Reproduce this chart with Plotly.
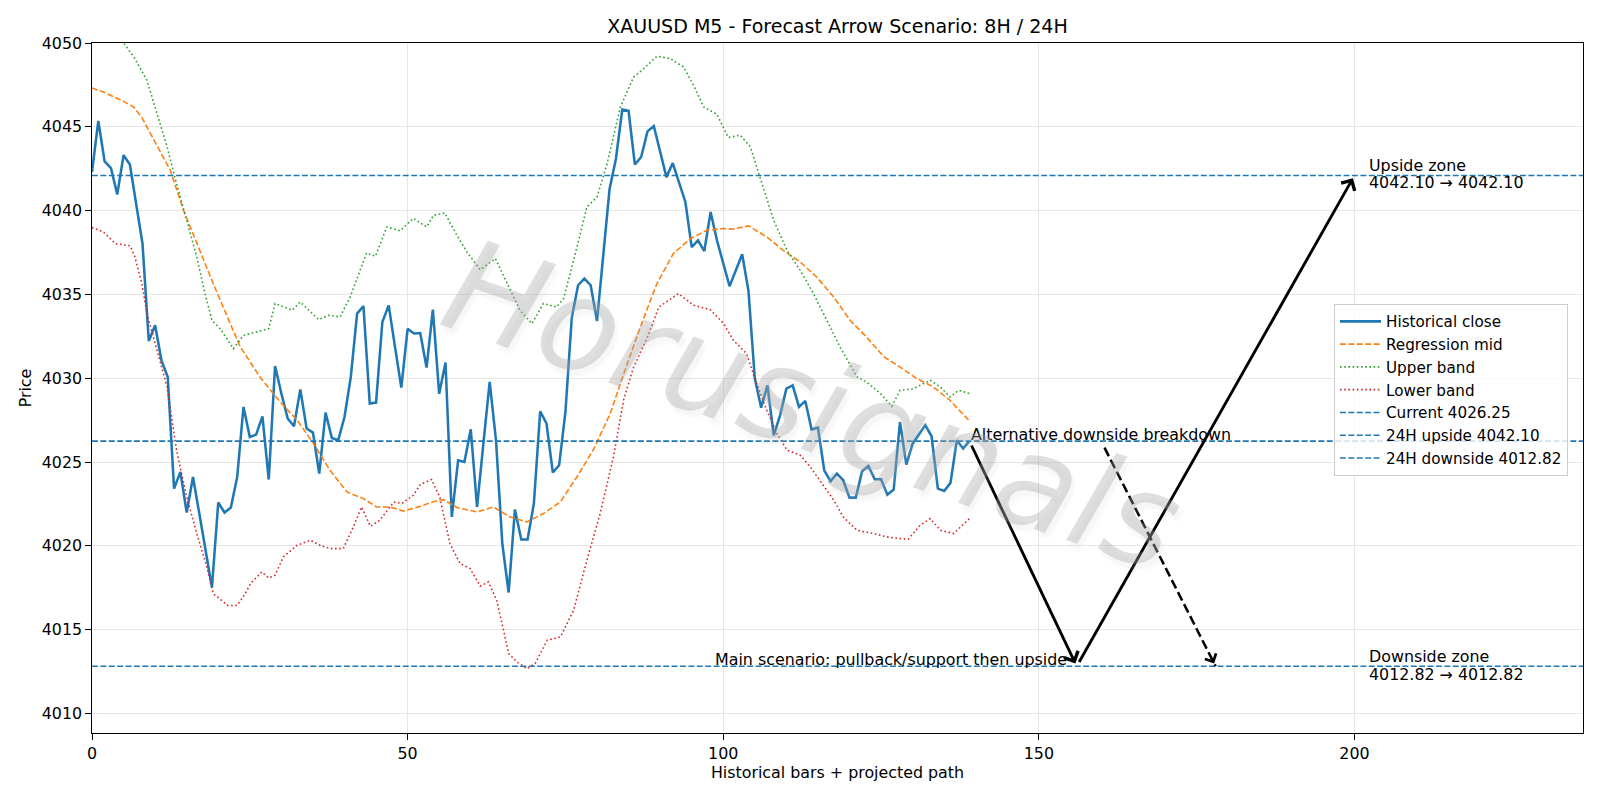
import plotly.graph_objects as go

# ---------------- data ----------------
close = [
    4042.30, 4045.35, 4042.94, 4042.54, 4040.97, 4043.30, 4042.75, 4040.42, 4038.03, 4032.22,
    4033.16, 4031.07, 4030.08, 4023.42, 4024.41, 4021.99, 4024.11, 4021.93, 4019.74, 4017.52,
    4022.59, 4021.99, 4022.29, 4024.11, 4028.29, 4026.50, 4026.64, 4027.73, 4023.96, 4030.73,
    4029.09, 4027.60, 4027.14, 4029.34, 4027.00, 4026.76, 4024.32, 4027.95, 4026.44, 4026.30,
    4027.69, 4030.08, 4033.86, 4034.31, 4028.49, 4028.55, 4033.36, 4034.35, 4031.87, 4029.45,
    4032.95, 4032.67, 4032.70, 4030.64, 4034.10, 4029.07, 4030.94, 4021.73, 4025.11, 4025.01,
    4026.96, 4022.32, 4026.10, 4029.78, 4026.30, 4020.14, 4017.22, 4022.17, 4020.38, 4020.38,
    4022.53, 4028.03, 4027.30, 4024.38, 4024.81, 4027.99, 4033.60, 4035.55, 4035.95, 4035.55,
    4033.42, 4037.53, 4041.31, 4043.10, 4046.03, 4045.95, 4042.75, 4043.20, 4044.73, 4045.05,
    4043.56, 4042.00, 4042.84, 4041.71, 4040.52, 4037.83, 4038.23, 4037.59, 4039.92, 4038.23,
    4036.94, 4035.49, 4036.44, 4037.40, 4035.20, 4030.00, 4028.25, 4029.58, 4026.60, 4027.79,
    4029.38, 4029.58, 4028.29, 4028.65, 4026.94, 4027.06, 4024.51, 4023.86, 4024.31, 4023.92,
    4022.88, 4022.88, 4024.45, 4024.77, 4023.98, 4023.98, 4023.06, 4023.36, 4027.39, 4024.85,
    4026.10, 4026.66, 4027.20, 4026.54, 4023.42, 4023.28, 4023.76, 4026.30, 4025.81, 4026.25,
]
bars = list(range(len(close)))

mid_x = [0, 1.8, 5, 6.6, 7.9, 10.3, 12.4, 14.5, 16.6, 19.2, 21.9, 23.5, 26.6, 29.8, 32.5, 35.1,
         37.7, 40.4, 43, 45.1, 47.2, 49.3, 52, 54.1, 55.7, 57.8, 61, 63.6, 66.2, 68.9, 71.5, 74.2,
         76.8, 79.4, 82.1, 84.7, 87.4, 89.5, 92.1, 94.8, 97.4, 100, 101.6, 104, 106.9, 109.5,
         112.2, 114.8, 117.5, 120.1, 122.7, 125.4, 128, 130.7, 133.3, 135.9, 139]
mid_y = [4047.32, 4047.08, 4046.52, 4046.18, 4045.55, 4043.90, 4042.41, 4040.02, 4038.03, 4035.65,
         4033.26, 4031.87, 4030.08, 4028.59, 4027.50, 4026.10, 4024.51, 4023.22, 4022.82, 4022.32,
         4022.32, 4022.08, 4022.36, 4022.64, 4022.76, 4022.29, 4022.03, 4022.32, 4021.73, 4021.43,
         4021.93, 4022.62, 4024.11, 4025.71, 4027.90, 4030.78, 4033.60, 4035.65, 4037.44, 4038.33,
         4038.83, 4038.93, 4038.90, 4039.09, 4038.43, 4037.63, 4036.94, 4036.04, 4034.85, 4033.46,
         4032.46, 4031.30, 4030.67, 4029.98, 4029.48, 4028.69, 4027.45]

up_x = [0, 5.0, 6.8, 8.7, 10.3, 11.9, 13.4, 15.0, 16.6, 17.9, 19.0, 20.3, 22.4, 24.0, 26.1, 28.0,
        29.0, 31.7, 33.0, 35.9, 37.5, 39.3, 40.9, 43.5, 44.9, 46.7, 48.8, 50.9, 53.0, 54.1, 55.9,
        57.8, 59.4, 61.5, 63.9, 65.7, 67.8, 69.7, 71.5, 73.6, 74.7, 76.3, 78.4, 80.0, 81.6, 83.7,
        85.8, 87.4, 89.5, 91.6, 93.7, 95.3, 96.9, 99.0, 100.8, 102.7, 104.3, 105.8, 108.0, 110.1,
        112.2, 114.3, 116.4, 118.5, 121.2, 122.7, 124.9, 126.7, 128.0, 130.1, 132.8, 134.4, 135.9,
        137.3, 139.0]
up_y = [4052.60, 4049.96, 4049.07, 4047.78, 4045.79, 4043.80, 4041.61, 4039.42, 4037.24, 4035.05,
        4033.46, 4032.96, 4031.77, 4032.56, 4032.76, 4032.96, 4034.46, 4034.06, 4034.55, 4033.50,
        4033.76, 4033.66, 4034.85, 4037.48, 4037.28, 4039.03, 4038.80, 4039.54, 4039.03, 4039.72,
        4039.86, 4038.53, 4037.53, 4036.48, 4037.14, 4035.74, 4034.06, 4033.26, 4034.46, 4034.25,
        4034.75, 4037.04, 4040.22, 4040.81, 4042.80, 4046.18, 4047.97, 4048.47, 4049.21, 4049.07,
        4048.57, 4047.48, 4046.18, 4045.75, 4044.36, 4044.50, 4043.80, 4042.01, 4039.42, 4037.63,
        4036.44, 4035.05, 4033.46, 4031.87, 4030.08, 4029.78, 4029.09, 4028.33, 4029.28, 4029.38,
        4029.88, 4029.48, 4028.89, 4029.28, 4029.09]

lo_x = [0, 1.8, 3.7, 5.0, 6.05, 6.8, 7.9, 8.7, 10.3, 11.9, 13.4, 15.0, 16.6, 18.2, 19.2, 20.3, 21.5,
        23.0, 24.2, 25.1, 26.9, 28.0, 29.0, 30.3, 32.5, 34.6, 36.1, 37.7, 39.8, 41.4, 42.7, 44.1,
        45.6, 47.8, 49.1, 50.9, 52.0, 53.8, 55.1, 56.7, 58.3, 59.9, 61.5, 62.8, 64.1, 65.2, 66.0,
        67.3, 68.9, 70.2, 72.1, 74.2, 76.3, 78.4, 80.5, 82.6, 84.2, 85.8, 88.0, 89.8, 92.9, 95.3,
        97.9, 100.0, 101.6, 103.7, 105.3, 106.9, 108.5, 110.1, 112.2, 113.8, 115.4, 117.5, 119.0,
        121.2, 123.8, 125.9, 128.0, 129.3, 131.2, 132.8, 134.4, 136.5, 139.0]
lo_y = [4038.99, 4038.73, 4038.03, 4037.97, 4037.90, 4037.24, 4035.65, 4033.86, 4031.67, 4029.48,
        4025.71, 4022.92, 4020.74, 4018.75, 4017.16, 4016.80, 4016.45, 4016.45, 4017.10, 4017.75,
        4018.45, 4018.09, 4018.25, 4019.34, 4020.04, 4020.34, 4020.04, 4019.84, 4019.84, 4021.13,
        4022.32, 4021.17, 4021.53, 4022.62, 4022.53, 4023.02, 4023.66, 4023.96, 4022.90, 4020.14,
        4018.95, 4018.65, 4017.60, 4017.85, 4016.76, 4014.97, 4013.58, 4013.08, 4012.68, 4012.98,
        4014.37, 4014.57, 4016.16, 4019.14, 4021.93, 4025.30, 4028.69, 4030.67, 4032.46, 4034.25,
        4035.05, 4034.35, 4034.10, 4033.30, 4032.27, 4031.47, 4029.68, 4028.09, 4026.70, 4025.71,
        4025.41, 4024.71, 4023.82, 4022.73, 4021.73, 4020.93, 4020.74, 4020.54, 4020.44, 4020.40,
        4021.23, 4021.63, 4020.93, 4020.74, 4021.63]

current_price = 4026.25
upside_level = 4042.10
downside_level = 4012.82
pivot_bar = 156
target_bar = 200
alt_start_bar, alt_start_price = 160.4, 4025.86
alt_end_bar = 178
label_bar = 202

x_ticks = [0, 50, 100, 150, 200]
y_ticks = [4010, 4015, 4020, 4025, 4030, 4035, 4040, 4045, 4050]
X_RANGE = [0, 236.2]
Y_RANGE = [4008.84, 4050.0]

# ---------------- layout geometry ----------------
W, H = 1600, 800
ML, MR, MT, MB = 92, 17, 43, 67
PW, PH = W - ML - MR, H - MT - MB
px_x = PW / (X_RANGE[1] - X_RANGE[0])
px_y = PH / (Y_RANGE[1] - Y_RANGE[0])

PT = 1.587  # px per point in the reference
BLUE, ORANGE, GREEN, RED = "#1f77b4", "#ff7f0e", "#2ca02c", "#d62728"
FONT = "DejaVu Sans"
FS = 10 * PT
DASH = f"{3.7 * PT:.1f}px,{1.6 * PT:.1f}px"
DOT = f"{1.0 * PT:.1f}px,{1.65 * PT:.1f}px"

fig = go.Figure()
fig.add_trace(go.Scatter(x=bars, y=close, mode="lines", name="Historical close",
                         line=dict(color=BLUE, width=1.6 * PT)))
fig.add_trace(go.Scatter(x=mid_x, y=mid_y, mode="lines", name="Regression mid",
                         line=dict(color=ORANGE, width=1.0 * PT, dash=DASH)))
fig.add_trace(go.Scatter(x=up_x, y=up_y, mode="lines", name="Upper band",
                         line=dict(color=GREEN, width=1.0 * PT, dash=DOT)))
fig.add_trace(go.Scatter(x=lo_x, y=lo_y, mode="lines", name="Lower band",
                         line=dict(color=RED, width=1.0 * PT, dash=DOT)))
for lvl, name in [(current_price, f"Current {current_price:.2f}"),
                  (upside_level, f"24H upside {upside_level:.2f}"),
                  (downside_level, f"24H downside {downside_level:.2f}")]:
    fig.add_trace(go.Scatter(x=X_RANGE, y=[lvl, lvl], mode="lines", name=name,
                             line=dict(color=BLUE, width=1.0 * PT, dash=DASH)))

ann = []
AW = 1.8 * PT
for (x0, y0, x1, y1) in [(bars[-1], current_price, pivot_bar, downside_level),
                         (pivot_bar, downside_level, target_bar, upside_level)]:
    ann.append(dict(x=x1, y=y1, ax=x0, ay=y0, xref="x", yref="y", axref="x", ayref="y",
                    text="", showarrow=True, arrowhead=4, arrowsize=1.05, arrowwidth=AW,
                    arrowcolor="black", standoff=2 * PT, startstandoff=2 * PT))

fig.add_shape(type="line", x0=alt_start_bar, y0=alt_start_price, x1=alt_end_bar, y1=downside_level,
              xref="x", yref="y",
              line=dict(color="black", width=1.6 * PT, dash=f"{3.7 * 1.6 * PT:.1f}px,{1.6 * 1.6 * PT:.1f}px"))
dxp = (alt_end_bar - alt_start_bar) * px_x
dyp = (downside_level - alt_start_price) * px_y
ln = (dxp ** 2 + dyp ** 2) ** 0.5
hl = 9.0
ann.append(dict(x=alt_end_bar, y=downside_level, ax=-dxp / ln * hl, ay=dyp / ln * hl,
                xref="x", yref="y", text="", showarrow=True, arrowhead=4, arrowsize=0.95,
                arrowwidth=1.6 * PT, arrowcolor="black", standoff=2 * PT))

ann.append(dict(x=bars[-1], y=current_price, xref="x", yref="y", text="Alternative downside breakdown",
                showarrow=False, xanchor="left", yanchor="bottom", yshift=-4.5,
                font=dict(family=FONT, size=FS, color="black")))
ann.append(dict(x=pivot_bar - 1.2, y=downside_level, xref="x", yref="y",
                text="Main scenario: pullback/support then upside",
                showarrow=False, xanchor="right", yanchor="bottom", yshift=-4.5,
                font=dict(family=FONT, size=FS, color="black")))
for lvl, title, shifts in [(upside_level, "Upside zone", (10.0, -7.2)),
                           (downside_level, "Downside zone", (9.6, -7.8))]:
    ann.append(dict(x=label_bar, y=lvl, xref="x", yref="y", text=title,
                    showarrow=False, xanchor="left", yanchor="middle", yshift=shifts[0],
                    font=dict(family=FONT, size=FS, color="black")))
    ann.append(dict(x=label_bar, y=lvl, xref="x", yref="y", text=f"{lvl:.2f} → {lvl:.2f}",
                    showarrow=False, xanchor="left", yanchor="middle", yshift=shifts[1],
                    font=dict(family=FONT, size=FS, color="black")))

wm_cx, wm_cy = 812, 405
ann.append(dict(x=(wm_cx - ML) / PW, y=(H - MB - wm_cy) / PH, xref="paper", yref="paper",
                text="Horusignals", showarrow=False, textangle=19,
                xanchor="center", yanchor="middle",
                font=dict(family=FONT, size=130, style="italic", color="rgba(160,160,160,0.34)",
                          shadow="5px 5px 3px rgba(200,200,200,0.4)")))

fig.update_layout(
    width=W, height=H,
    margin=dict(l=ML, r=MR, t=MT, b=MB),
    paper_bgcolor="white", plot_bgcolor="white",
    font=dict(family=FONT, size=FS, color="black"),
    title=dict(text="XAUUSD M5 - Forecast Arrow Scenario: 8H / 24H", x=(ML + PW / 2) / W,
               xref="container", xanchor="center", y=1 - 26 / H, yref="container",
               yanchor="middle", font=dict(family=FONT, size=12 * PT, color="black")),
    annotations=ann,
    showlegend=True,
    legend=dict(x=(1334 - ML) / PW, y=(H - MB - 304) / PH, xanchor="left", yanchor="top",
                bgcolor="rgba(255,255,255,0.8)", bordercolor="#cccccc", borderwidth=1,
                itemwidth=41,
                font=dict(family=FONT, size=15.2, color="black")),
)
axis_common = dict(showgrid=True, gridcolor="#e6e6e6", gridwidth=0.8 * PT, zeroline=False,
                   showline=True, linecolor="black", linewidth=0.8 * PT, mirror=True,
                   ticks="outside", ticklen=3.5 * PT, tickwidth=0.8 * PT, tickcolor="black",
                   tickfont=dict(family=FONT, size=FS, color="black"))
fig.update_xaxes(range=X_RANGE, tickvals=x_ticks, **axis_common,
                 title=dict(text="Historical bars + projected path", standoff=4,
                            font=dict(family=FONT, size=FS)))
fig.update_yaxes(range=Y_RANGE, tickvals=y_ticks, **axis_common,
                 title=dict(text="Price", standoff=6, font=dict(family=FONT, size=FS)))

fig.write_html("out.html")
